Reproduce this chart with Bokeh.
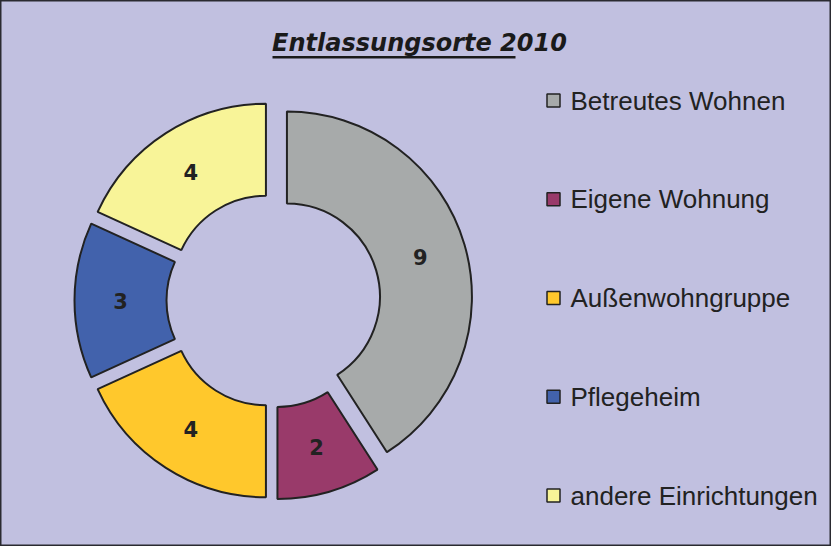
import numpy as np
from bokeh.plotting import figure
from bokeh.models import Range1d, ColumnDataSource, BoxAnnotation, Label
from bokeh.core.properties import value
from bokeh.embed import file_html
from bokeh.resources import INLINE

# ---- data ----
categories = ["Betreutes Wohnen", "Eigene Wohnung", "Außenwohngruppe", "Pflegeheim", "andere Einrichtungen"]
counts = [9, 2, 4, 3, 4]
colors = ["#A7AAAA", "#993A6A", "#FFC82C", "#4262AC", "#F8F498"]
title_text = "Entlassungsorte 2010"

# ---- layout (pixel-like data space) ----
W, H = 831, 546
BG = "#C1C0E0"
cx, cy = 273, 246
R_out, R_in = 185, 93
explode = 14
label_r = (R_out + R_in) / 2

vals = np.array(counts, dtype=float)
frac = vals / vals.sum()
theta_end = np.cumsum(frac) * 2 * np.pi     # clockwise from 12 o'clock
theta_start = theta_end - frac * 2 * np.pi
theta_mid = (theta_start + theta_end) / 2

xs = cx + explode * np.sin(theta_mid)
ys = cy + explode * np.cos(theta_mid)
start_angle = np.pi / 2 - theta_end
end_angle = np.pi / 2 - theta_start

src = ColumnDataSource(dict(
    x=xs, y=ys, sa=start_angle, ea=end_angle, color=colors, cat=categories,
    lx=xs + label_r * np.sin(theta_mid), ly=ys + label_r * np.cos(theta_mid),
    lab=[str(c) for c in counts],
))

p = figure(width=W, height=H, x_range=Range1d(0, W), y_range=Range1d(0, H),
           min_border=0, toolbar_location=None, output_backend="svg")
p.axis.visible = False
p.grid.visible = False
p.background_fill_color = BG
p.border_fill_color = BG
p.outline_line_color = "#2a2a30"
p.outline_line_width = 2

p.annular_wedge(x="x", y="y", inner_radius=R_in, outer_radius=R_out,
                start_angle="sa", end_angle="ea", direction="anticlock",
                fill_color="color", line_color="#222222", line_width=2, source=src)

p.text(x="lx", y="ly", text="lab", source=src, text_align="center",
       text_baseline="middle", text_font=value("DejaVu Sans"),
       text_font_style="bold", text_font_size="21px", text_color="#222222")

# legend
n = len(categories)
leg_y = 446 - np.arange(n) * 98.75
leg = ColumnDataSource(dict(x=np.full(n, 553.0), tx=np.full(n, 570.0), y=leg_y,
                            color=colors, cat=categories))
p.scatter(x="x", y="y", marker="square", size=13, fill_color="color",
          line_color="#222222", line_width=1.5, source=leg)
p.text(x="tx", y="y", text="cat", source=leg, text_baseline="middle",
       text_font=value("Liberation Sans"), text_font_size="26px", text_color="#222222")

# title
p.add_layout(Label(x=419, y=504, text=title_text, text_align="center",
                   text_baseline="middle", text_font="DejaVu Sans",
                   text_font_style="bold italic", text_font_size="24px",
                   text_color="#1a1a1a"))
p.add_layout(BoxAnnotation(left=272, right=515, bottom=488, top=490.5,
                           fill_color="#1a1a1a", fill_alpha=1, line_alpha=0))

open("out.html", "w").write(file_html(p, INLINE))
